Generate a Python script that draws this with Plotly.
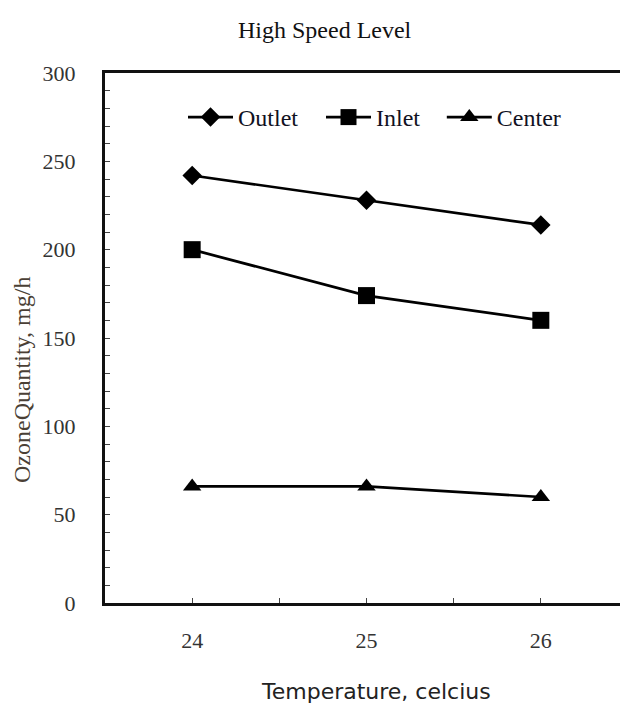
import plotly.graph_objects as go

temps = [24, 25, 26]
outlet = [242, 228, 214]
inlet = [200, 174, 160]
center = [66, 66, 60]
series_names = ["Outlet", "Inlet", "Center"]

OFF = 8  # page body margin
W, H = 628 - OFF, 706 - OFF
L, R, T, B = 105 - OFF, 0, 73 - OFF, 103
pw, ph = W - L - R, H - T - B

def px_x(x):
    return (x - OFF - L) / pw

def px_y(y):
    return (H - B - (y - OFF)) / ph

serif = "Liberation Serif, Times New Roman, serif"
sans = "DejaVu Sans, Verdana, sans-serif"

# invisible padding after legend labels to widen spacing like the reference
pad = ["\u00a0\u00a0\u00a0", "\u00a0\u00a0\u2009", ""]

fig = go.Figure()
line = dict(color="black", width=2.7)
fig.add_trace(go.Scatter(x=temps, y=outlet, name=series_names[0] + pad[0], mode="lines+markers",
                         line=line, marker=dict(symbol="diamond", size=15, color="black")))
fig.add_trace(go.Scatter(x=temps, y=inlet, name=series_names[1] + pad[1], mode="lines+markers",
                         line=line, marker=dict(symbol="square", size=17, color="black")))
fig.add_trace(go.Scatter(x=temps, y=center, name=series_names[2] + pad[2], mode="lines+markers",
                         line=line, marker=dict(symbol="triangle-up", size=16, color="black")))

fig.update_layout(
    width=W, height=H,
    margin=dict(l=L, r=R, t=T, b=B),
    paper_bgcolor="white", plot_bgcolor="white",
    showlegend=True,
    legend=dict(orientation="h", x=px_x(183), y=px_y(95), xanchor="left", yanchor="top",
                font=dict(family=serif, size=24, color="#111122"),
                bgcolor="rgba(0,0,0,0)", itemwidth=45, tracegroupgap=0),
    xaxis=dict(range=[23.5, 26.5], tickvals=[24, 25, 26], ticktext=["24", "25", "26"],
               ticks="inside", ticklen=5, tickwidth=1, tickcolor="#444",
               minor=dict(dtick=0.5, tick0=24, ticks="inside", ticklen=5, tickcolor="#444"),
               showline=True, linecolor="#111", linewidth=3, mirror=True,
               showgrid=False, zeroline=False,
               tickfont=dict(family=serif, size=22, color="#333"),
               ticklabelstandoff=16),
    yaxis=dict(range=[0, 300], tickvals=[0, 50, 100, 150, 200, 250, 300],
               ticks="inside", ticklen=5, tickwidth=1, tickcolor="#444",
               minor=dict(dtick=10, ticks="inside", ticklen=5, tickcolor="#444"),
               showline=True, linecolor="#111", linewidth=3, mirror=False,
               showgrid=False, zeroline=False,
               tickfont=dict(family=serif, size=22, color="#333"),
               ticklabelstandoff=22),
    annotations=[
        dict(text="High Speed Level", xref="paper", yref="paper", x=px_x(325), y=px_y(30),
             showarrow=False, font=dict(family=serif, size=24, color="#111"),
             xanchor="center", yanchor="middle"),
        dict(text="OzoneQuantity, mg/h", xref="paper", yref="paper", x=px_x(22), y=px_y(380),
             showarrow=False, textangle=-90, font=dict(family=serif, size=24, color="#4a3f35"),
             xanchor="center", yanchor="middle"),
        dict(text="Temperature, celcius", xref="paper", yref="paper", x=px_x(376), y=px_y(691),
             showarrow=False, font=dict(family=sans, size=22, color="#222"),
             xanchor="center", yanchor="middle"),
    ],
)

fig.write_html("out.html")
